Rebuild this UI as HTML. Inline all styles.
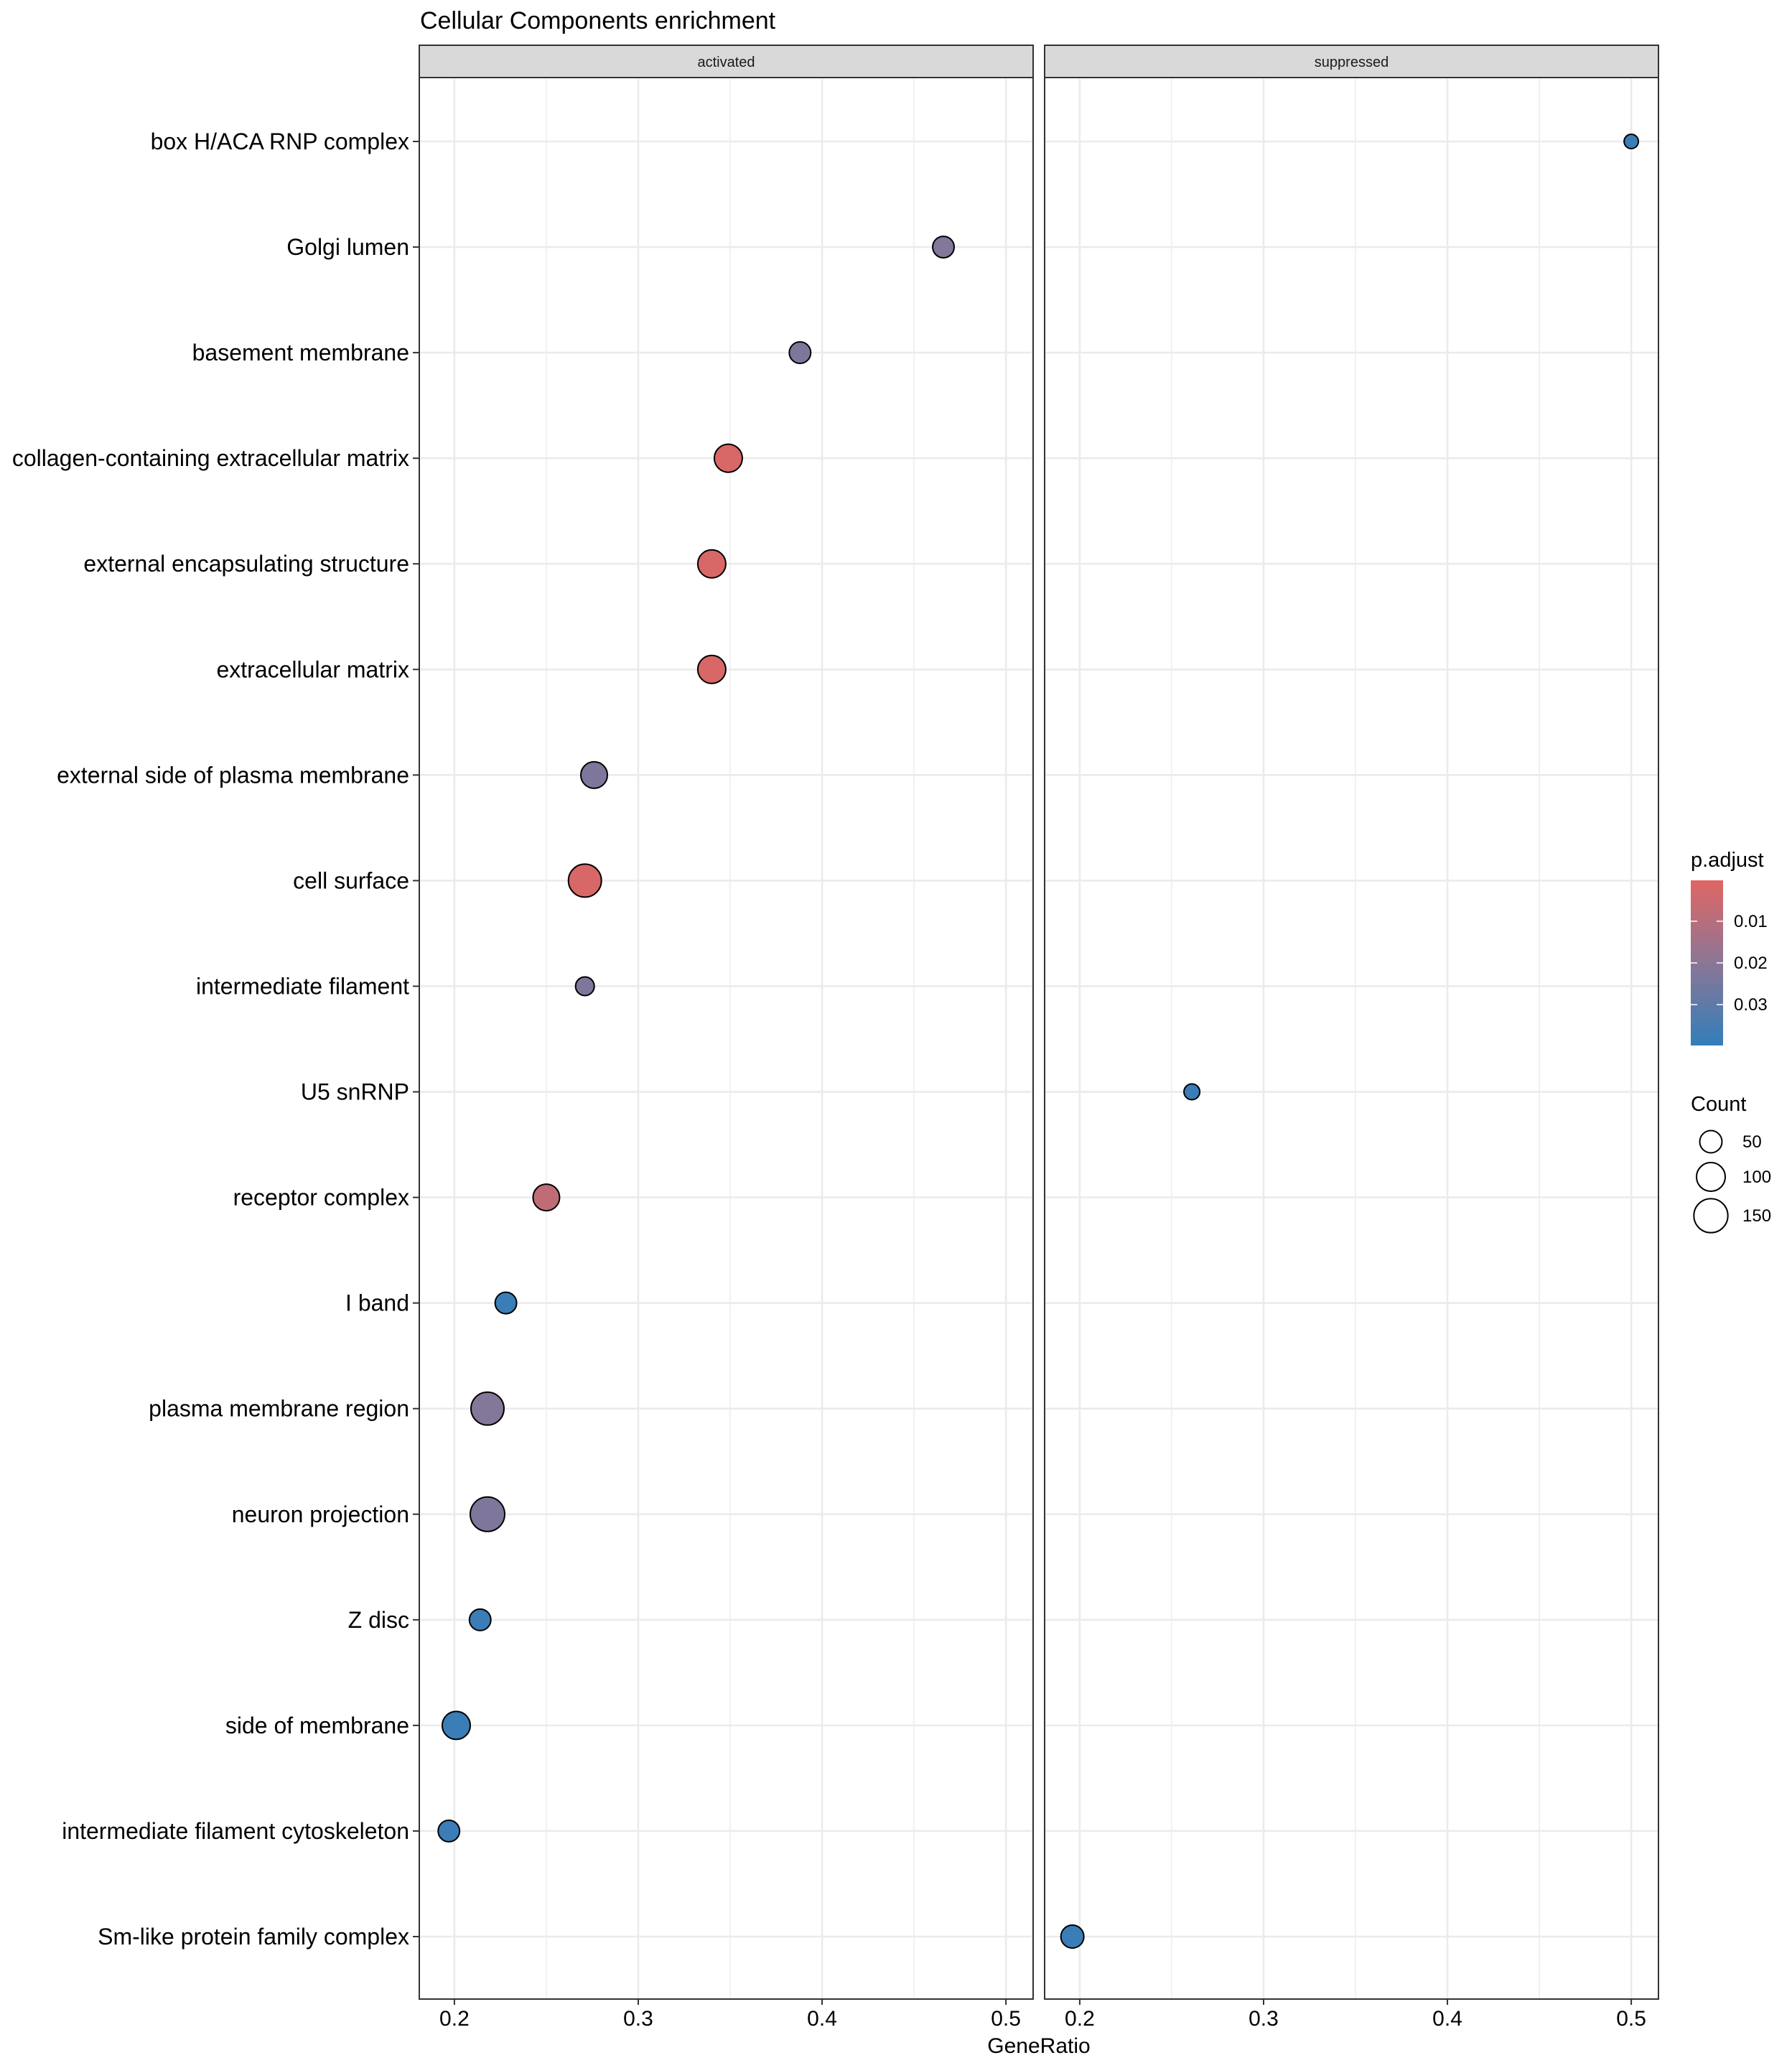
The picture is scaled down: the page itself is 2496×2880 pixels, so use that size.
<!DOCTYPE html>
<html><head><meta charset="utf-8"><style>
html,body{margin:0;padding:0;background:#fff;}
svg{display:block;font-family:"Liberation Sans",Arial,sans-serif;}
</style></head><body>
<svg id="chart" width="2496" height="2880" viewBox="0 0 2496 2880" xmlns="http://www.w3.org/2000/svg">
<rect x="0" y="0" width="2496" height="2880" fill="#fff"/>
<text x="585" y="40" font-size="34" fill="#000">Cellular Components enrichment</text>
<g id="plot"></g>
</svg>
<script>
const categories = ["box H/ACA RNP complex","Golgi lumen","basement membrane","collagen-containing extracellular matrix","external encapsulating structure","extracellular matrix","external side of plasma membrane","cell surface","intermediate filament","U5 snRNP","receptor complex","I band","plasma membrane region","neuron projection","Z disc","side of membrane","intermediate filament cytoskeleton","Sm-like protein family complex"];
const activatedCats = ["Golgi lumen","basement membrane","collagen-containing extracellular matrix","external encapsulating structure","extracellular matrix","external side of plasma membrane","cell surface","intermediate filament","receptor complex","I band","plasma membrane region","neuron projection","Z disc","side of membrane","intermediate filament cytoskeleton"];
const activatedRatio = [0.466,0.388,0.349,0.340,0.340,0.276,0.271,0.271,0.250,0.228,0.218,0.218,0.214,0.201,0.197];
const activatedCount = [45,45,94,94,94,82,140,28,82,45,140,155,45,94,45];
const activatedPadj = [0.022,0.023,0.002,0.002,0.002,0.023,0.002,0.023,0.008,0.038,0.022,0.023,0.038,0.038,0.038];
const suppressedCats = ["box H/ACA RNP complex","U5 snRNP","Sm-like protein family complex"];
const suppressedRatio = [0.5,0.261,0.196];
const suppressedCount = [6,13,55];
const suppressedPadj = [0.038,0.038,0.038];
const xTicks = [0.2,0.3,0.4,0.5];
const xTickLabels = ["0.2","0.3","0.4","0.5"];
const xMinor = [0.25,0.35,0.45];
const colorTicks = [0.01,0.02,0.03];
const colorTickLabels = ["0.01","0.02","0.03"];
const sizeLegend = [50,100,150];

const NS="http://www.w3.org/2000/svg";
const root=document.getElementById('plot');
function mk(tag,attrs,parent,txt){const e=document.createElementNS(NS,tag);for(const k in attrs)e.setAttribute(k,attrs[k]);if(txt!==undefined)e.textContent=txt;(parent||root).appendChild(e);return e;}

const panelTop=108, panelBot=2784, stripTop=63;
const panels=[{left:584,right:1439,name:'activated',cats:activatedCats,ratio:activatedRatio,count:activatedCount,padj:activatedPadj},
              {left:1455,right:2310,name:'suppressed',cats:suppressedCats,ratio:suppressedRatio,count:suppressedCount,padj:suppressedPadj}];
const xDom=[0.1809,0.5148];
function xScale(p,v){return p.left+(v-xDom[0])/(xDom[1]-xDom[0])*(p.right-p.left);}
const row0=197, rowStep=(2697-197)/17;
function yScale(c){return row0+categories.indexOf(c)*rowStep;}
function rScale(c){return Math.sqrt(Math.max(3.2*c+80,60));}
const cLow=[224,102,99], cMid=[140,118,150], cHigh=[50,126,186], pMin=0.0002, pMax=0.0398;
function colorScale(p){let t=(p-pMin)/(pMax-pMin);t=Math.max(0,Math.min(1,t));let a,b,u;if(t<0.5){a=cLow;b=cMid;u=t*2;}else{a=cMid;b=cHigh;u=(t-0.5)*2;}const c=a.map((v,i)=>Math.round(v+(b[i]-v)*u));return `rgb(${c[0]},${c[1]},${c[2]})`;}

panels.forEach((p,pi)=>{
  const g=mk('g',{});
  
  
  xMinor.forEach(v=>{mk('line',{x1:xScale(p,v),x2:xScale(p,v),y1:panelTop,y2:panelBot,stroke:'#ebebeb','stroke-width':1.4},g);});
  xTicks.forEach(v=>{mk('line',{x1:xScale(p,v),x2:xScale(p,v),y1:panelTop,y2:panelBot,stroke:'#ebebeb','stroke-width':2.6},g);});
  categories.forEach(c=>{mk('line',{x1:p.left,x2:p.right,y1:yScale(c),y2:yScale(c),stroke:'#ebebeb','stroke-width':2.6},g);});
  p.cats.forEach((c,i)=>{
    const d=mk('circle',{cx:xScale(p,p.ratio[i]),cy:yScale(c),r:rScale(p.count[i]),fill:colorScale(p.padj[i]),stroke:'#000','stroke-width':2},g);
    
    
  });
  const b=mk('rect',{x:p.left,y:panelTop,width:p.right-p.left,height:panelBot-panelTop,fill:'none',stroke:'#333','stroke-width':2},g);
  
  
  const s=mk('rect',{x:p.left,y:stripTop,width:p.right-p.left,height:panelTop-stripTop,fill:'#d9d9d9',stroke:'#333','stroke-width':2},g);
  
  
  const st=mk('text',{x:(p.left+p.right)/2,y:93,'font-size':20,'text-anchor':'middle',fill:'#1a1a1a'},g,p.name);
  
  
  xTicks.forEach((v,i)=>{
    mk('line',{x1:xScale(p,v),x2:xScale(p,v),y1:panelBot,y2:panelBot+8,stroke:'#333','stroke-width':2},g);
    const t=mk('text',{x:xScale(p,v),y:2821,'font-size':30,'text-anchor':'middle',fill:'#000'},g,xTickLabels[i]);
    
    
  });
});
categories.forEach(c=>{
  mk('line',{x1:575,x2:584,y1:yScale(c),y2:yScale(c),stroke:'#333','stroke-width':2});
  const t=mk('text',{x:570,y:yScale(c)+11,'font-size':32,'text-anchor':'end',fill:'#000'},root,c);
  
  
});
const xt=mk('text',{x:1447,y:2859,'font-size':30,'text-anchor':'middle',fill:'#000'},root,'GeneRatio');



// color legend
const LX=2355;
const lg=mk('g',{});


mk('text',{x:LX,y:1207,'font-size':29,fill:'#000'},lg,'p.adjust');
const defs=mk('defs',{},lg);
const grad=mk('linearGradient',{id:'cg',x1:0,y1:0,x2:0,y2:1},defs);
mk('stop',{offset:'0%','stop-color':colorScale(pMin)},grad);
mk('stop',{offset:'50%','stop-color':colorScale((pMin+pMax)/2)},grad);
mk('stop',{offset:'100%','stop-color':colorScale(pMax)},grad);
const cbTop=1226, cbBot=1456;
mk('rect',{x:LX,y:cbTop,width:45,height:cbBot-cbTop,fill:'url(#cg)'},lg);
function cbY(v){return cbTop+(v-pMin)/(pMax-pMin)*(cbBot-cbTop);}
colorTicks.forEach((v,i)=>{
  mk('line',{x1:LX,x2:LX+9,y1:cbY(v),y2:cbY(v),stroke:'#fff','stroke-width':1.5},lg);
  mk('text',{x:LX+60,y:cbY(v)+8,'font-size':24,fill:'#000'},lg,colorTickLabels[i]);
  mk('line',{x1:LX+36,x2:LX+45,y1:cbY(v),y2:cbY(v),stroke:'#fff','stroke-width':1.5},lg);
});
// size legend
const sg=mk('g',{});


mk('text',{x:LX,y:1547,'font-size':29,fill:'#000'},sg,'Count');
const sizeY=[1590,1639,1693];
sizeLegend.forEach((v,i)=>{
  mk('circle',{cx:LX+28,cy:sizeY[i],r:rScale(v),fill:'none',stroke:'#000','stroke-width':2},sg);
  mk('text',{x:LX+72,y:sizeY[i]+8,'font-size':24,fill:'#000'},sg,String(v));
});
</script>
</body></html>
